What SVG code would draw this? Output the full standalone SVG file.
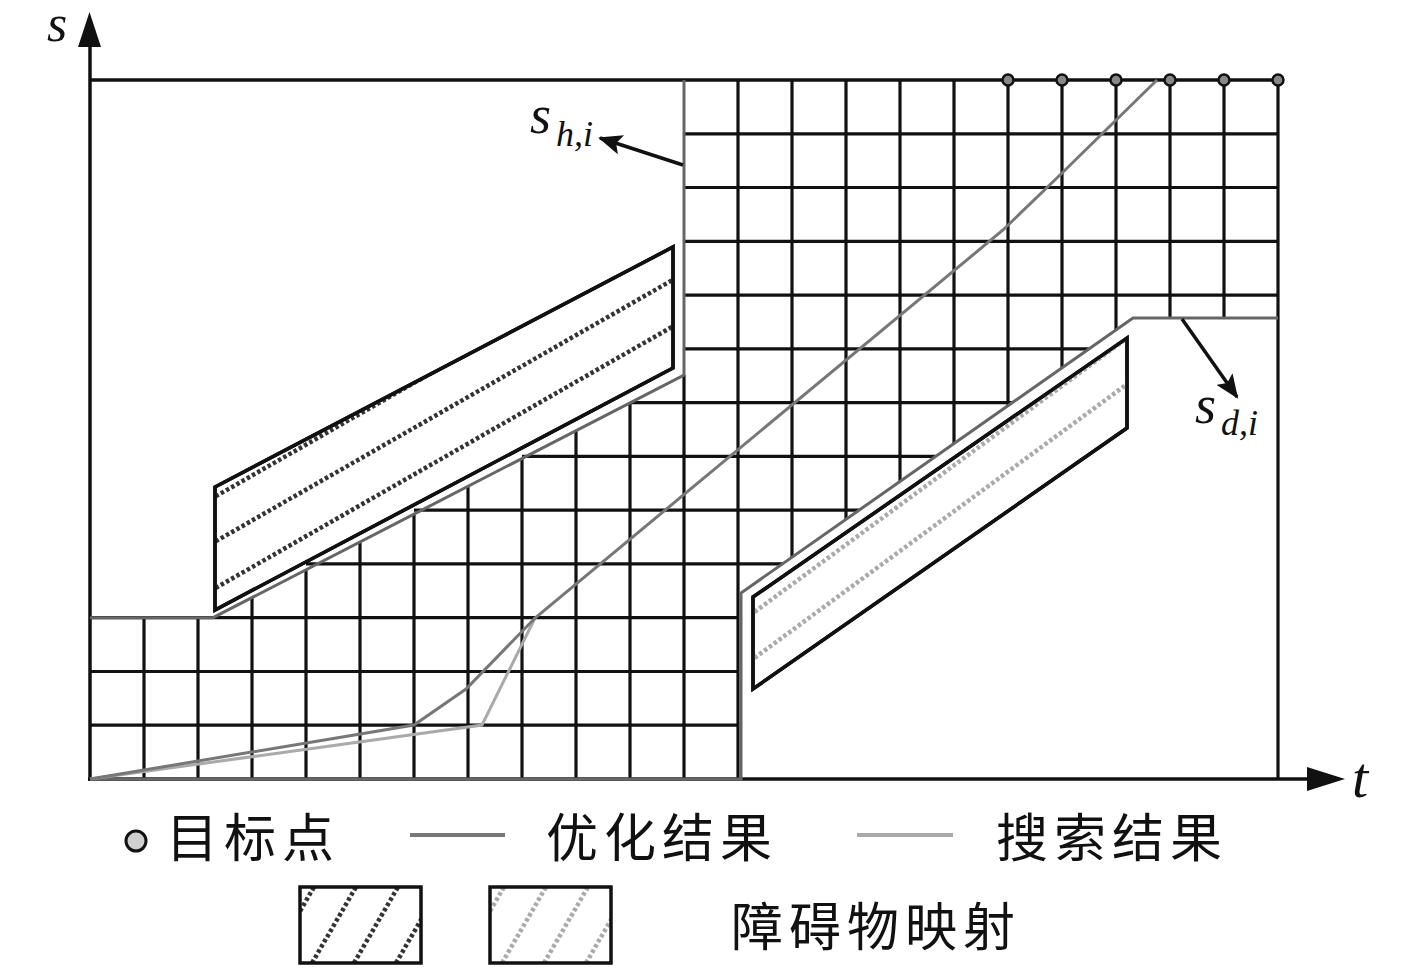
<svg xmlns="http://www.w3.org/2000/svg" width="1417" height="974" viewBox="0 0 1417 974">
<style>
.grid{stroke:#111;stroke-width:3.2;fill:none}
.axis{stroke:#111;stroke-width:3.5;fill:none}
.bound{stroke:#666;stroke-width:3;fill:none;stroke-linejoin:miter}
.opt{stroke:#777;stroke-width:3;fill:none}
.search{stroke:#aaa;stroke-width:3;fill:none}
.obs{stroke:#111;stroke-width:3.5;fill:#fff}
.hatchD{stroke:#333;stroke-width:4.5;stroke-dasharray:3.5 2.5;fill:none}
.hatchL{stroke:#aaa;stroke-width:4.5;stroke-dasharray:3.5 2.5;fill:none}
.it{font-family:"Liberation Serif",serif;font-style:italic;fill:#111}
.cjk{font-family:"Liberation Serif","Noto Sans CJK SC",sans-serif;font-size:52px;letter-spacing:6px;fill:#111}
.goal{fill:#888;stroke:#111;stroke-width:2.5}
</style>
<defs>
<marker id="arr" viewBox="0 0 24 20" refX="22" refY="10" markerWidth="24" markerHeight="20" markerUnits="userSpaceOnUse" orient="auto">
<path d="M0,0 L24,10 L0,20 L5,10 Z" fill="#111"/>
</marker>
<clipPath id="c1"><polygon points="215,487 673,247 673,368 215,610"/></clipPath>
<clipPath id="c2"><polygon points="753,597 1127,338 1127,428 753,689"/></clipPath>
<clipPath id="c3"><rect x="300" y="887" width="121" height="76"/></clipPath>
<clipPath id="c4"><rect x="490" y="887" width="121" height="76"/></clipPath>
</defs>

<g id="grid">
<line class="grid" x1="144" y1="617.7" x2="144" y2="779"/>
<line class="grid" x1="198" y1="617.7" x2="198" y2="779"/>
<line class="grid" x1="252" y1="597.6" x2="252" y2="779"/>
<line class="grid" x1="306" y1="569.8" x2="306" y2="779"/>
<line class="grid" x1="360" y1="542" x2="360" y2="779"/>
<line class="grid" x1="414" y1="514.1" x2="414" y2="779"/>
<line class="grid" x1="468" y1="486.3" x2="468" y2="779"/>
<line class="grid" x1="522" y1="458.5" x2="522" y2="779"/>
<line class="grid" x1="576" y1="430.6" x2="576" y2="779"/>
<line class="grid" x1="630" y1="402.8" x2="630" y2="779"/>
<line class="grid" x1="684" y1="375" x2="684" y2="779"/>
<line class="grid" x1="738" y1="80" x2="738" y2="779"/>
<line class="grid" x1="792" y1="80" x2="792" y2="557.2"/>
<line class="grid" x1="846" y1="80" x2="846" y2="519.3"/>
<line class="grid" x1="900" y1="80" x2="900" y2="481.5"/>
<line class="grid" x1="954" y1="80" x2="954" y2="443.6"/>
<line class="grid" x1="1008" y1="80" x2="1008" y2="405.7"/>
<line class="grid" x1="1062" y1="80" x2="1062" y2="367.8"/>
<line class="grid" x1="1116" y1="80" x2="1116" y2="329.9"/>
<line class="grid" x1="1170" y1="80" x2="1170" y2="318"/>
<line class="grid" x1="1224" y1="80" x2="1224" y2="318"/>
<line class="grid" x1="1278" y1="80" x2="1278" y2="779"/>
<line class="grid" x1="90" y1="725.2" x2="738" y2="725.2"/>
<line class="grid" x1="90" y1="671.5" x2="738" y2="671.5"/>
<line class="grid" x1="90" y1="617.7" x2="738" y2="617.7"/>
<line class="grid" x1="306" y1="563.9" x2="782.5" y2="563.9"/>
<line class="grid" x1="414" y1="510.2" x2="859" y2="510.2"/>
<line class="grid" x1="522" y1="456.4" x2="935.7" y2="456.4"/>
<line class="grid" x1="630" y1="402.6" x2="1012.4" y2="402.6"/>
<line class="grid" x1="684" y1="348.8" x2="1089.1" y2="348.8"/>
<line class="grid" x1="684" y1="295.1" x2="1278" y2="295.1"/>
<line class="grid" x1="684" y1="241.3" x2="1278" y2="241.3"/>
<line class="grid" x1="684" y1="187.5" x2="1278" y2="187.5"/>
<line class="grid" x1="684" y1="133.8" x2="1278" y2="133.8"/>
</g>

<g id="axes">
<line class="axis" x1="90" y1="80" x2="1283" y2="80"/>
<line class="axis" x1="90" y1="781" x2="90" y2="44"/>
<line class="axis" x1="88" y1="779" x2="1310" y2="779"/>
<polygon points="89.5,12 78,47 101,47" fill="#111"/>
<polygon points="1345,779 1307,767 1307,791" fill="#111"/>
</g>

<g id="obstacle-1">
<polygon class="obs" points="215,487 673,247 673,368 215,610"/>
<g clip-path="url(#c1)">
<line class="hatchD" x1="200" y1="505.3" x2="690" y2="225"/>
<line class="hatchD" x1="200" y1="550.3" x2="690" y2="270"/>
<line class="hatchD" x1="200" y1="596.9" x2="690" y2="316.6"/>
</g>
<polygon points="215,487 673,247 673,368 215,610" fill="none" stroke="#111" stroke-width="3.5"/>
</g>

<g id="obstacle-2">
<polygon class="obs" points="753,597 1127,338 1127,428 753,689"/>
<g clip-path="url(#c2)">
<line class="hatchL" x1="740" y1="622.6" x2="1140" y2="328.6"/>
<line class="hatchL" x1="740" y1="668.6" x2="1140" y2="374.6"/>
</g>
<polygon points="753,597 1127,338 1127,428 753,689" fill="none" stroke="#111" stroke-width="3.5"/>
</g>

<g id="boundaries">
<polyline id="s-h" class="bound" points="90,617.7 213,617.7 684,375 684,80"/>
<polyline id="s-d" class="bound" points="90,779 741,779 741,593 1133,318 1278,318"/>
</g>

<g id="paths">
<polyline id="search-result" class="search" points="90,779 482,725 535,618"/>
<polyline id="opt-result" class="opt" points="90,779 414,725 466,689 535,618 1003,230 1060,175 1157,80"/>
</g>

<g id="goals">
<circle class="goal" cx="1008" cy="80" r="5.5"/>
<circle class="goal" cx="1062" cy="80" r="5.5"/>
<circle class="goal" cx="1116" cy="80" r="5.5"/>
<circle class="goal" cx="1170" cy="80" r="5.5"/>
<circle class="goal" cx="1224" cy="80" r="5.5"/>
<circle class="goal" cx="1278" cy="80" r="5.5"/>
</g>

<g id="connectors">
<line x1="683" y1="165" x2="600" y2="138" stroke="#111" stroke-width="3.5" marker-end="url(#arr)"/>
<line x1="1182" y1="319" x2="1237" y2="397" stroke="#111" stroke-width="3.5" marker-end="url(#arr)"/>
</g>

<g id="labels">
<text class="it" x="47" y="41" font-size="52">s</text>
<text class="it" x="1352" y="797" font-size="58">t</text>
<text class="it" x="530" y="133" font-size="54">s<tspan x="556" y="146" font-size="36">h,i</tspan></text>
<text class="it" x="1195" y="423" font-size="54">s<tspan x="1221" y="435" font-size="36">d,i</tspan></text>
</g>

<g id="legend">
<circle cx="136" cy="841" r="10" fill="#d0d0d0" stroke="#111" stroke-width="3"/>
<text class="cjk" x="166" y="857">目标点</text>
<line x1="410" y1="835" x2="505" y2="835" stroke="#777" stroke-width="4"/>
<text class="cjk" x="546" y="857">优化结果</text>
<line x1="857" y1="835" x2="953" y2="835" stroke="#aaa" stroke-width="4"/>
<text class="cjk" x="996" y="857">搜索结果</text>
<g id="legend-obs-1">
<g clip-path="url(#c3)">
<line class="hatchD" x1="270" y1="963" x2="314" y2="887"/>
<line class="hatchD" x1="312" y1="963" x2="356" y2="887"/>
<line class="hatchD" x1="354" y1="963" x2="398" y2="887"/>
<line class="hatchD" x1="396" y1="963" x2="440" y2="887"/>
</g>
<rect x="300" y="887" width="121" height="76" fill="none" stroke="#111" stroke-width="3.5"/>
</g>
<g id="legend-obs-2">
<g clip-path="url(#c4)">
<line class="hatchL" x1="460" y1="963" x2="504" y2="887"/>
<line class="hatchL" x1="502" y1="963" x2="546" y2="887"/>
<line class="hatchL" x1="544" y1="963" x2="588" y2="887"/>
<line class="hatchL" x1="586" y1="963" x2="630" y2="887"/>
</g>
<rect x="490" y="887" width="121" height="76" fill="none" stroke="#111" stroke-width="3.5"/>
</g>
<text class="cjk" x="731" y="946">障碍物映射</text>
</g>
</svg>
